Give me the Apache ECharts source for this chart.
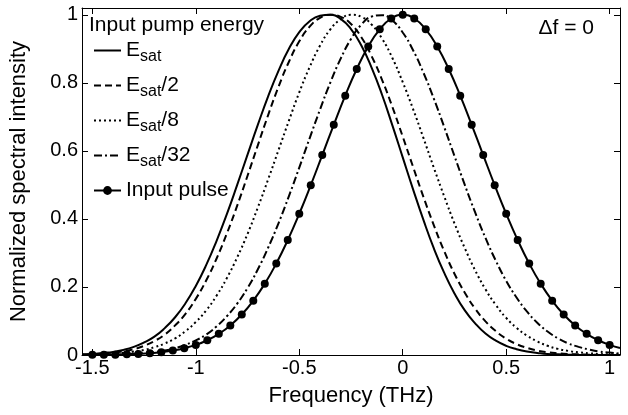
<!DOCTYPE html>
<html>
<head>
<meta charset="utf-8">
<title>Normalized spectral intensity</title>
<script src="https://cdn.jsdelivr.net/npm/echarts@6/dist/echarts.min.js"></script>
<style>
  html, body { margin: 0; padding: 0; background: #fff; }
  #main { width: 628px; height: 415px; }
</style>
</head>
<body>
<div id="main"></div>
<script>
// frequency grid (THz) shared by the four pumped spectra
let freq = [-1.55, -1.5, -1.45, -1.4, -1.35, -1.3, -1.25, -1.2, -1.15, -1.1, -1.05, -1.0,
  -0.95, -0.9, -0.85, -0.8, -0.75, -0.7, -0.65, -0.6, -0.55, -0.5, -0.45, -0.4, -0.35,
  -0.3, -0.25, -0.2, -0.15, -0.1, -0.05, 0, 0.05, 0.1, 0.15, 0.2, 0.25, 0.3, 0.35, 0.4,
  0.45, 0.5, 0.55, 0.6, 0.65, 0.7, 0.75, 0.8, 0.85, 0.9, 0.95, 1.0, 1.05];

// E_sat
let esat = [0.002, 0.003, 0.006, 0.009, 0.015, 0.024, 0.037, 0.054, 0.079, 0.111, 0.152, 0.203,
  0.264, 0.335, 0.414, 0.500, 0.589, 0.677, 0.761, 0.836, 0.900, 0.949, 0.981, 0.997, 1.000,
  0.988, 0.958, 0.910, 0.844, 0.765, 0.675, 0.581, 0.487, 0.397, 0.314, 0.242, 0.181, 0.131,
  0.093, 0.063, 0.042, 0.027, 0.017, 0.010, 0.006, 0.003, 0.002, 0.001, 0, 0, 0, 0, 0];

// E_sat/2
let esat2 = [0.001, 0.002, 0.004, 0.007, 0.011, 0.017, 0.027, 0.041, 0.060, 0.087, 0.121, 0.165,
  0.219, 0.283, 0.357, 0.439, 0.527, 0.617, 0.706, 0.789, 0.862, 0.922, 0.965, 0.991, 1.000,
  0.994, 0.973, 0.934, 0.878, 0.809, 0.729, 0.642, 0.553, 0.465, 0.382, 0.306, 0.239, 0.183,
  0.136, 0.099, 0.070, 0.048, 0.032, 0.021, 0.013, 0.008, 0.005, 0.003, 0.002, 0.001, 0, 0, 0];

// E_sat/8
let esat8 = [0.001, 0.001, 0.002, 0.004, 0.006, 0.010, 0.015, 0.023, 0.034, 0.049, 0.070, 0.097,
  0.131, 0.174, 0.226, 0.287, 0.356, 0.434, 0.517, 0.603, 0.689, 0.772, 0.846, 0.909, 0.957,
  0.987, 1.000, 0.994, 0.971, 0.930, 0.873, 0.802, 0.723, 0.638, 0.551, 0.467, 0.387, 0.314,
  0.249, 0.193, 0.147, 0.109, 0.080, 0.057, 0.040, 0.027, 0.018, 0.012, 0.008, 0.005, 0.003,
  0.002, 0.001];

// E_sat/32
let esat32 = [0, 0, 0.001, 0.001, 0.002, 0.004, 0.006, 0.009, 0.013, 0.020, 0.030, 0.043,
  0.060, 0.084, 0.114, 0.151, 0.197, 0.252, 0.316, 0.388, 0.467, 0.551, 0.637, 0.721, 0.801,
  0.871, 0.929, 0.971, 0.995, 0.999, 0.983, 0.948, 0.896, 0.830, 0.754, 0.671, 0.585, 0.500,
  0.419, 0.344, 0.277, 0.218, 0.169, 0.128, 0.095, 0.069, 0.049, 0.034, 0.024, 0.016, 0.010,
  0.007, 0.004];

// input pulse: sample points (markers), first and last only continue the line to the frame
let pulseFreq = [-1.55, -1.5, -1.4444, -1.3889, -1.3333, -1.2778, -1.2222, -1.1667, -1.1111,
  -1.0556, -1.0, -0.9444, -0.8889, -0.8333, -0.7778, -0.7222, -0.6667, -0.6111, -0.5556, -0.5,
  -0.4444, -0.3889, -0.3333, -0.2778, -0.2222, -0.1667, -0.1111, -0.0556, 0, 0.0556, 0.1111,
  0.1667, 0.2222, 0.2778, 0.3333, 0.3889, 0.4444, 0.5, 0.5556, 0.6111, 0.6667, 0.7222, 0.7778,
  0.8333, 0.8889, 0.9444, 1.0, 1.05];
let pulse = [0.0002, 0.0004, 0.0007, 0.0011, 0.0019, 0.0032, 0.0052, 0.0084, 0.0130, 0.0199,
  0.0297, 0.0434, 0.0622, 0.0870, 0.1192, 0.1598, 0.2096, 0.2690, 0.3378, 0.4152, 0.4993,
  0.5876, 0.6766, 0.7624, 0.8406, 0.9070, 0.9575, 0.9892, 1, 0.9892, 0.9575, 0.9070, 0.8406,
  0.7624, 0.6766, 0.5876, 0.4993, 0.4152, 0.3378, 0.2690, 0.2096, 0.1598, 0.1192, 0.0870,
  0.0622, 0.0434, 0.0297, 0.0207];

let legendText = {
  'Esat': '{e|E}{s|sat}',
  'Esat/2': '{e|E}{s|sat}{e|/2}',
  'Esat/8': '{e|E}{s|sat}{e|/8}',
  'Esat/32': '{e|E}{s|sat}{e|/32}',
  'Input pulse': '{e|Input pulse}'
};

let font = '"Liberation Sans", Arial, Helvetica, sans-serif';

function pairs(xs, ys) {
  return xs.map(function (x, i) { return [x, ys[i]]; });
}

function curve(name, values, dash) {
  return {
    name: name,
    type: 'line',
    data: pairs(freq, values),
    symbol: 'none',
    smooth: true,
    lineStyle: { color: '#000', width: 2, type: dash, cap: 'butt' },
    itemStyle: { color: '#000' }
  };
}

// legend entry with only the line sample (no marker)
function lineOnly(name) {
  return { name: name, itemStyle: { opacity: 0 } };
}

let pulseData = pairs(pulseFreq, pulse).map(function (p, i) {
  if (i === 0 || i === pulseFreq.length - 1) {
    return { value: p, symbol: 'none' };
  }
  return p;
});

let axisCommon = {
  type: 'value',
  axisLine: { show: true, onZero: false, lineStyle: { color: '#000', width: 1 } },
  axisTick: { show: true, inside: true, length: 6, lineStyle: { color: '#000' } },
  splitLine: { show: false }
};

let myChart = echarts.init(document.getElementById('main'), null, { renderer: 'canvas' });
myChart.setOption({
  backgroundColor: '#fff',
  animation: false,
  textStyle: { fontFamily: font, color: '#000' },
  title: [{
    text: 'Input pump energy',
    left: 89,
    top: 15,
    padding: 0,
    textStyle: { fontSize: 21, fontWeight: 'normal', fontFamily: font, color: '#000' }
  }, {
    text: '\u0394f = 0',
    right: 34,
    top: 18,
    padding: 0,
    textStyle: { fontSize: 21, fontWeight: 'normal', fontFamily: font, color: '#000' }
  }],
  legend: {
    orient: 'vertical',
    left: 93,
    top: 40,
    padding: 0,
    itemGap: 10.5,
    itemWidth: 27,
    itemHeight: 11,
    data: [lineOnly('Esat'), lineOnly('Esat/2'), lineOnly('Esat/8'), lineOnly('Esat/32'), 'Input pulse'],
    formatter: function (name) { return legendText[name]; },
    textStyle: {
      fontSize: 21,
      fontFamily: font,
      color: '#000',
      rich: {
        e: { fontSize: 21, fontFamily: font, color: '#000', lineHeight: 24 },
        s: { fontSize: 16, fontFamily: font, color: '#000', padding: [12, 0, 0, 0] }
      }
    }
  },
  grid: { left: 82, right: 8, top: 8, bottom: 60 },
  xAxis: [
    Object.assign({}, axisCommon, {
      position: 'bottom',
      min: -1.55,
      max: 1.05,
      name: 'Frequency (THz)',
      nameLocation: 'middle',
      nameGap: 30,
      nameTextStyle: { fontSize: 22, fontFamily: font, color: '#000' },
      axisLabel: { fontSize: 20, fontFamily: font, color: '#000', margin: 3,
        showMinLabel: false, showMaxLabel: false }
    }),
    Object.assign({}, axisCommon, {
      position: 'top',
      min: -1.55,
      max: 1.05,
      axisLabel: { show: false }
    })
  ],
  yAxis: [
    Object.assign({}, axisCommon, {
      position: 'left',
      min: 0,
      max: 1.02,
      interval: 0.2,
      name: 'Normalized spectral intensity',
      nameLocation: 'middle',
      nameGap: 52,
      nameTextStyle: { fontSize: 22, fontFamily: font, color: '#000' },
      axisLabel: { fontSize: 20, fontFamily: font, color: '#000', margin: 4, showMaxLabel: false }
    }),
    Object.assign({}, axisCommon, {
      position: 'right',
      min: 0,
      max: 1.02,
      interval: 0.2,
      axisLabel: { show: false }
    })
  ],
  series: [
    curve('Esat', esat, 'solid'),
    curve('Esat/2', esat2, [7, 4]),
    curve('Esat/8', esat8, [2, 3]),
    curve('Esat/32', esat32, [8, 3, 2, 3]),
    {
      name: 'Input pulse',
      type: 'line',
      data: pulseData,
      symbol: 'circle',
      symbolSize: 8,
      smooth: true,
      lineStyle: { color: '#000', width: 2, type: 'solid' },
      itemStyle: { color: '#000' }
    }
  ]
});
window.addEventListener('resize', function () { myChart.resize(); });
</script>
</body>
</html>
